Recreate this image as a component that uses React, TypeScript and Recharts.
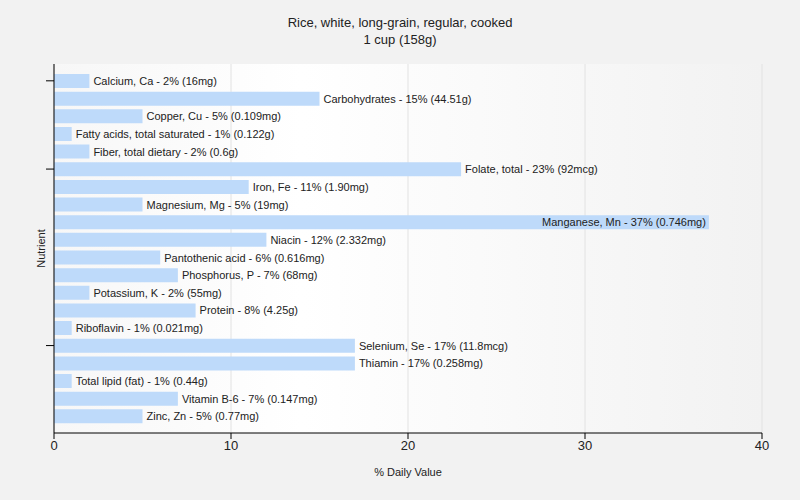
import { BarChart, Bar, XAxis, YAxis, CartesianGrid, LabelList, Label } from 'recharts';

const nutrients = [
  'Calcium, Ca', 'Carbohydrates', 'Copper, Cu', 'Fatty acids, total saturated', 'Fiber, total dietary',
  'Folate, total', 'Iron, Fe', 'Magnesium, Mg', 'Manganese, Mn', 'Niacin',
  'Pantothenic acid', 'Phosphorus, P', 'Potassium, K', 'Protein', 'Riboflavin',
  'Selenium, Se', 'Thiamin', 'Total lipid (fat)', 'Vitamin B-6', 'Zinc, Zn',
];
const dailyValues = [2, 15, 5, 1, 2, 23, 11, 5, 37, 12, 6, 7, 2, 8, 1, 17, 17, 1, 7, 5];
const amounts = [
  '16mg', '44.51g', '0.109mg', '0.122g', '0.6g',
  '92mcg', '1.90mg', '19mg', '0.746mg', '2.332mg',
  '0.616mg', '68mg', '55mg', '4.25g', '0.021mg',
  '11.8mcg', '0.258mg', '0.44g', '0.147mg', '0.77mg',
];
const xTicks = [0, 10, 20, 30, 40];
const yTicks = ['Calcium, Ca', 'Folate, total', 'Selenium, Se'];

const data = nutrients.map((name, i) => ({
  name,
  value: dailyValues[i],
  label: `${name} - ${dailyValues[i]}% (${amounts[i]})`,
}));

const FONT = '"Liberation Sans", Arial, sans-serif';
const PLOT_RIGHT = 762;

// put the label after the bar, or inside it when it would run past the plot
function BarLabel(props: any) {
  const { x, y, width, height, value } = props;
  const textW = String(value).length * 5.7;
  const end = x + width;
  const inside = end + 4 + textW > PLOT_RIGHT;
  return (
    <text
      x={inside ? end - 3 : end + 4}
      y={y + height / 2}
      dy={4}
      textAnchor={inside ? 'end' : 'start'}
      fontSize={11}
      fontFamily={FONT}
      fill="#222"
    >
      {value}
    </text>
  );
}

export default function App() {
  return (
    <div style={{ position: 'absolute', left: 0, top: 0, width: 800, height: 500, background: '#f2f2f2' }}>
      <svg width={800} height={50} style={{ position: 'absolute', left: 0, top: 0 }}>
        <text x={400} y={27} textAnchor="middle" fontSize={13} fontFamily={FONT} fill="#222">
          Rice, white, long-grain, regular, cooked
        </text>
        <text x={400} y={44} textAnchor="middle" fontSize={13} fontFamily={FONT} fill="#222">
          1 cup (158g)
        </text>
      </svg>
      <BarChart
        width={800}
        height={500}
        data={data}
        layout="vertical"
        margin={{ top: 64, right: 38, bottom: 27, left: 40 }}
        style={{ position: 'absolute', left: 0, top: 0 }}
      >
        <defs>
          <linearGradient id="plotBg" x1="0" y1="0" x2="1" y2="0">
            <stop offset="0%" stopColor="#f7f7f7" />
            <stop offset="35%" stopColor="#ffffff" />
            <stop offset="100%" stopColor="#f2f2f2" />
          </linearGradient>
        </defs>
        <CartesianGrid horizontal={false} stroke="#e2e2e2" fill="url(#plotBg)" fillOpacity={1} />
        <XAxis
          type="number"
          domain={[0, 40]}
          ticks={xTicks}
          height={40}
          tickSize={6}
          stroke="#000"
          tick={{ fill: '#222', fontSize: 13, fontFamily: FONT }}
        >
          <Label
            content={({ viewBox }: any) => (
              <text x={viewBox.x + viewBox.width / 2} y={476} textAnchor="middle" fontSize={11} fontFamily={FONT} fill="#222">
                % Daily Value
              </text>
            )}
          />
        </XAxis>
        <YAxis
          type="category"
          dataKey="name"
          ticks={yTicks}
          interval={0}
          width={14}
          tickSize={8}
          tick={() => <g />}
          stroke="#000"
          padding={{ top: 8, bottom: 8 }}
        >
          <Label
            content={({ viewBox }: any) => (
              <text
                x={45}
                y={viewBox.y + viewBox.height / 2}
                textAnchor="middle"
                fontSize={11}
                fontFamily={FONT}
                fill="#222"
                transform={`rotate(-90 45 ${viewBox.y + viewBox.height / 2})`}
              >
                Nutrient
              </text>
            )}
          />
        </YAxis>
        <Bar dataKey="value" fill="#bedafa" barSize={14} isAnimationActive={false}>
          <LabelList dataKey="label" content={BarLabel} />
        </Bar>
      </BarChart>
    </div>
  );
}
